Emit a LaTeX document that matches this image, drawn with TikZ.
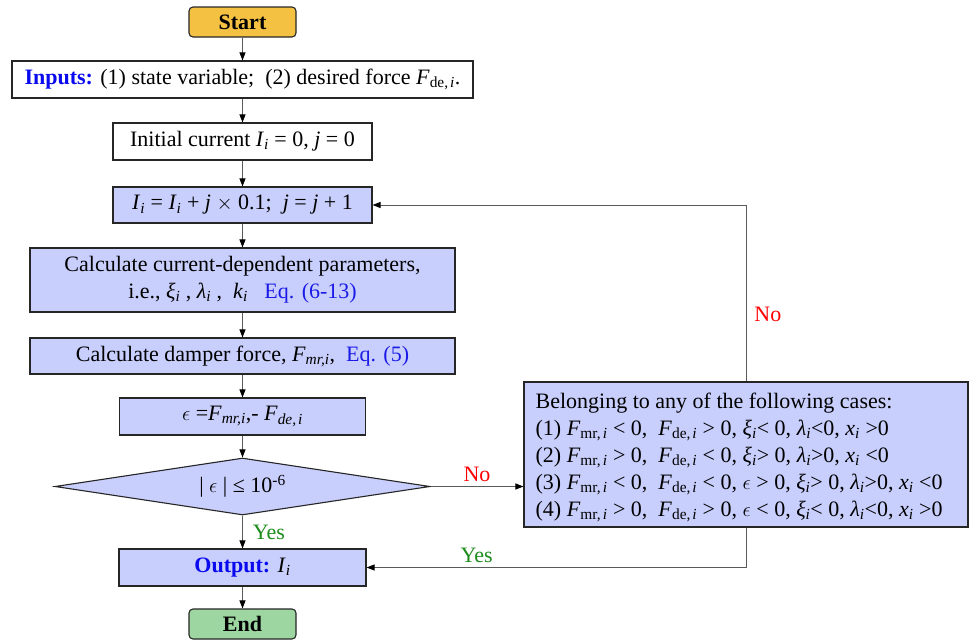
\documentclass[tikz,border=0pt]{standalone}
\usepackage{fontspec}
\setmainfont{Liberation Serif}
\usetikzlibrary{shapes.geometric,arrows.meta}
\definecolor{boxblue}{HTML}{C8CFFC}
\definecolor{startc}{HTML}{F4C143}
\definecolor{endc}{HTML}{9DD6A0}
\definecolor{inblue}{HTML}{0A0AF0}
\definecolor{eqblue}{HTML}{1A1AE6}
\definecolor{nored}{HTML}{FF0000}
\definecolor{yesgreen}{HTML}{1C8C1C}
\definecolor{linec}{HTML}{5A5A5A}
\newcommand\Fv{\textit{F}}
\newcommand\sbs[1]{\textsubscript{#1}}
\newcommand\ii{\sbs{\textit{i}}}
\newcommand\mri{\sbs{mr,\kern2pt\textit{i}}}
\newcommand\dei{\sbs{de,\kern2pt\textit{i}}}
\begin{document}
\begin{tikzpicture}[x=1pt,y=-1pt,
  font=\fontsize{22}{27}\selectfont,
  base/.style={draw=black!85, line width=1.1pt, inner sep=0pt, anchor=center},
  bbox/.style={base, fill=boxblue},
  wbox/.style={base, fill=white},
  term/.style={base, rounded corners=4pt, minimum width=107pt, minimum height=30pt},
  conn/.style={draw=linec, line width=0.9pt, -{Triangle[length=8pt,width=6pt,color=black]}},
  plain/.style={draw=linec, line width=0.9pt},
  nolab/.style={text=nored},
  yeslab/.style={text=yesgreen}]
\useasboundingbox (0,0) rectangle (970,640);

\node[term, fill=startc] (start) at (242.5,22) {\textbf{Start}};
\node[wbox, minimum width=461pt, minimum height=37pt] (inp) at (242.5,79.5)
  {\textcolor{inblue}{\textbf{Inputs:}} (1) state variable;~ (2) desired force \Fv\dei.};
\node[wbox, minimum width=259pt, minimum height=37pt] (init) at (242.5,141.5)
  {Initial current \textit{I}\ii{} = 0, \textit{j} = 0};
\node[bbox, minimum width=259pt, minimum height=36pt] (upd) at (242.5,205)
  {\textit{I}\ii{} = \textit{I}\ii{} + \textit{j} $\times$ 0.1;~ \textit{j} = \textit{j} + 1};
\node[bbox, minimum width=425pt, minimum height=64pt, align=center] (param) at (242.5,280)
  {Calculate current-dependent parameters,\\ i.e., \textit{ξ}\ii{} , \textit{λ}\ii{} ,~ \textit{k}\ii{}~~ \textcolor{eqblue}{Eq. (6-13)}};
\node[bbox, minimum width=425pt, minimum height=36pt] (damp) at (242.5,356)
  {Calculate damper force, \Fv\sbs{\textit{mr,i}},~ \textcolor{eqblue}{Eq. (5)}};
\node[bbox, minimum width=246pt, minimum height=37pt] (err) at (242.5,416.5)
  {$\epsilon$ =\Fv\sbs{\textit{mr,i}},- \Fv\sbs{\textit{de,\kern2pt i}}};
\node[bbox, diamond, shape aspect=6.58, minimum width=375pt, minimum height=57pt] (dia) at (242.5,486.5)
  {| $\epsilon$ | ≤ 10\textsuperscript{-6}};
\node[bbox, minimum width=247pt, minimum height=37pt] (out) at (242.5,567.5)
  {\textcolor{inblue}{\textbf{Output:}} \textit{I}\ii};
\node[term, fill=endc] (end) at (242.5,624) {\textbf{End}};

\node[bbox, minimum width=444pt, minimum height=145pt] (cases) at (746,454.5) {};
\node[anchor=west, inner sep=0pt, align=left] (ctext) at ([xshift=12pt,yshift=-3pt]cases.west)
  {Belonging to any of the following cases:\\
   (1) \Fv\mri{} < 0,~ \Fv\dei{} > 0, \textit{ξ}\ii< 0, \textit{λ}\ii<0, \textit{x}\ii{} >0\\
   (2) \Fv\mri{} > 0,~ \Fv\dei{} < 0, \textit{ξ}\ii> 0, \textit{λ}\ii>0, \textit{x}\ii{} <0\\
   (3) \Fv\mri{} < 0,~ \Fv\dei{} < 0, $\epsilon$ > 0, \textit{ξ}\ii> 0, \textit{λ}\ii>0, \textit{x}\ii{} <0\\
   (4) \Fv\mri{} > 0,~ \Fv\dei{} > 0, $\epsilon$ < 0, \textit{ξ}\ii< 0, \textit{λ}\ii<0, \textit{x}\ii{} >0};

\coordinate (c1) at (746,205);
\coordinate (c2) at (746,567.5);

\draw[conn] (start) -- (inp);
\draw[conn] (inp) -- (init);
\draw[conn] (init) -- (upd);
\draw[conn] (upd) -- (param);
\draw[conn] (param) -- (damp);
\draw[conn] (damp) -- (err);
\draw[conn] (err) -- (dia);
\draw[conn] (dia) -- node[yeslab, right, inner sep=0pt, xshift=10pt] {Yes} (out);
\draw[conn] (out) -- (end);
\draw[conn] (dia.east) -- node[nolab, above, inner sep=0pt, yshift=4pt] {No} (dia.east -| cases.west);
\draw[plain] (cases.north) -- node[nolab, right, pos=0.38, inner sep=0pt, xshift=8pt] {No} (c1);
\draw[conn] (c1) -- (upd.east);
\draw[plain] (cases.south) -- (c2);
\draw[conn] (c2) -- node[yeslab, above, pos=0.71, inner sep=0pt, yshift=4pt] {Yes} (out.east);
\end{tikzpicture}
\end{document}
